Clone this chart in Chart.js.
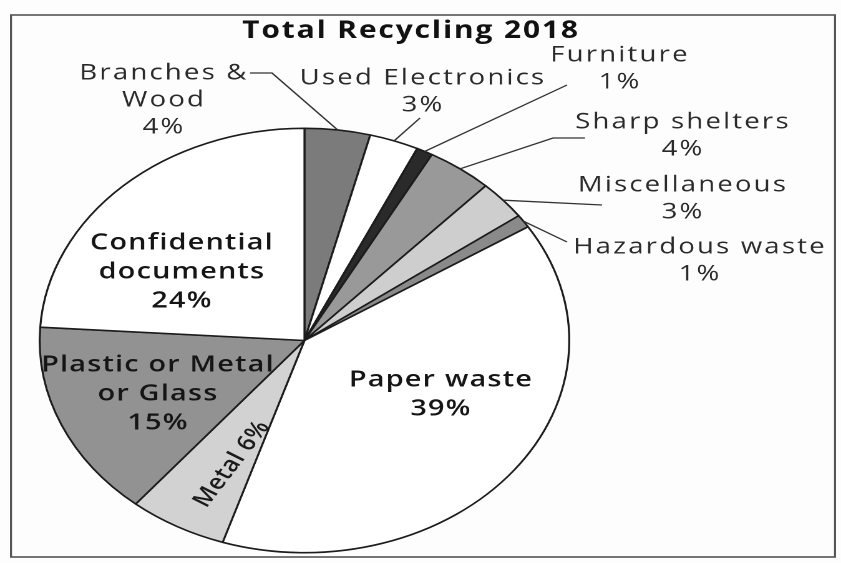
<!DOCTYPE html>
<html>
<head>
<meta charset="utf-8">
<script src="https://cdn.jsdelivr.net/npm/chart.js@4"></script>
<style>
  body { margin: 0; background: #fff; }
  #wrap {
    position: absolute; left: 0; top: 0;
    width: 674px; height: 563px;
    transform: scaleX(1.2478); transform-origin: 0 0;
  }
</style>
</head>
<body>
<div id="wrap"><canvas id="myChart"></canvas></div>
<script>
// data (clockwise from 12 o'clock)
const categories = ["Branches &\nWood", "Used Electronics", "Furniture", "Sharp shelters", "Miscellaneous",
  "Hazardous waste", "Paper waste", "Metal", "Plastic or Metal\nor Glass", "Confidential\ndocuments"];
const shares = [4, 3, 1, 4, 3, 1, 39, 6, 15, 24];
const sliceColors = ["#7b7b7b", "#ffffff", "#2a2a2a", "#999999", "#cecece", "#8a8a8a", "#ffffff", "#d2d2d2", "#929292", "#ffffff"];
const chartTitle = "Total Recycling 2018";

const S = 841 / 674; // the picture is stretched sideways

// label placement in page pixels (x, y of first line), leader points from label towards the pie
const labelSpots = [
  {x: 164, y: 73, lead: [[250, 73], [272, 73]]},
  {x: 423, y: 78, lead: [[420, 118]]},
  {x: 620, y: 55, lead: [[567, 85]]},
  {x: 683, y: 122, lead: [[585, 138], [553, 138]]},
  {x: 683, y: 185, lead: [[602, 205]]},
  {x: 700, y: 247, lead: [[567, 242]]},
  {x: 441, y: 380, inside: true},
  {x: 232, y: 464, inside: true, rot: -58, oneLine: true},
  {x: 158, y: 365, inside: true},
  {x: 182, y: 243, inside: true},
];

const labelPlugin = {
  id: "labels",
  beforeDraw(chart) {
    const ctx = chart.ctx;
    ctx.save();
    ctx.fillStyle = "#fdfdfd";
    ctx.fillRect(0, 0, chart.width, chart.height);
    ctx.strokeStyle = "#555";
    ctx.lineWidth = 1.6;
    ctx.strokeRect(11 / S, 15, 824 / S, 542);
    ctx.restore();
  },
  afterDatasetsDraw(chart) {
    const ctx = chart.ctx;
    const arcs = chart.getDatasetMeta(0).data;
    ctx.save();
    ctx.textAlign = "center";
    ctx.textBaseline = "middle";

    ctx.fillStyle = "#111";
    ctx.font = "bold 24px 'Open Sans'";
    ctx.letterSpacing = "1.5px";
    ctx.fillText(chartTitle, 411 / S, 31);

    categories.forEach((name, i) => {
      const spot = labelSpots[i];
      const arc = arcs[i].getProps(["x", "y", "startAngle", "endAngle", "outerRadius"], true);
      const lines = name.split("\n");
      lines.push(shares[i] + "%");

      if (spot.lead) {
        const mid = (arc.startAngle + arc.endAngle) / 2;
        const ax = arc.x + arc.outerRadius * Math.cos(mid);
        const ay = arc.y + arc.outerRadius * Math.sin(mid);
        ctx.strokeStyle = "#333";
        ctx.lineWidth = 1.3;
        ctx.beginPath();
        spot.lead.forEach((p, k) => {
          if (k === 0) ctx.moveTo(p[0] / S, p[1]);
          else ctx.lineTo(p[0] / S, p[1]);
        });
        ctx.lineTo(ax, ay);
        ctx.stroke();
      }

      if (spot.oneLine) {
        ctx.save();
        ctx.translate(spot.x / S, spot.y);
        ctx.rotate(spot.rot * Math.PI / 180);
        ctx.fillStyle = "#1a1a1a";
        ctx.font = "600 21px 'Open Sans'";
        ctx.letterSpacing = "0.5px";
        ctx.fillText(name + " " + shares[i] + "%", 0, 0);
        ctx.restore();
        return;
      }

      ctx.fillStyle = spot.inside ? "#151515" : "#2a2a2a";
      ctx.font = spot.inside ? "600 23px 'Open Sans'" : "22px 'Open Sans'";
      ctx.letterSpacing = spot.inside ? "1px" : "1.8px";
      const lh = spot.inside ? 29 : 27;
      lines.forEach((t, k) => ctx.fillText(t, spot.x / S, spot.y + k * lh));
    });
    ctx.restore();
  }
};

new Chart(document.getElementById("myChart"), {
  type: "pie",
  data: {
    labels: categories,
    datasets: [{
      data: shares,
      backgroundColor: sliceColors,
      borderColor: "#1c1c1c",
      borderWidth: 1.6,
    }],
  },
  options: {
    responsive: true,
    maintainAspectRatio: false,
    animation: false,
    devicePixelRatio: 2,
    layout: { padding: { left: 31, top: 127, right: 217, bottom: 9 } },
    plugins: {
      legend: { display: false },
      tooltip: { enabled: false },
      title: { display: false },
    },
  },
  plugins: [labelPlugin],
});
</script>
</body>
</html>
